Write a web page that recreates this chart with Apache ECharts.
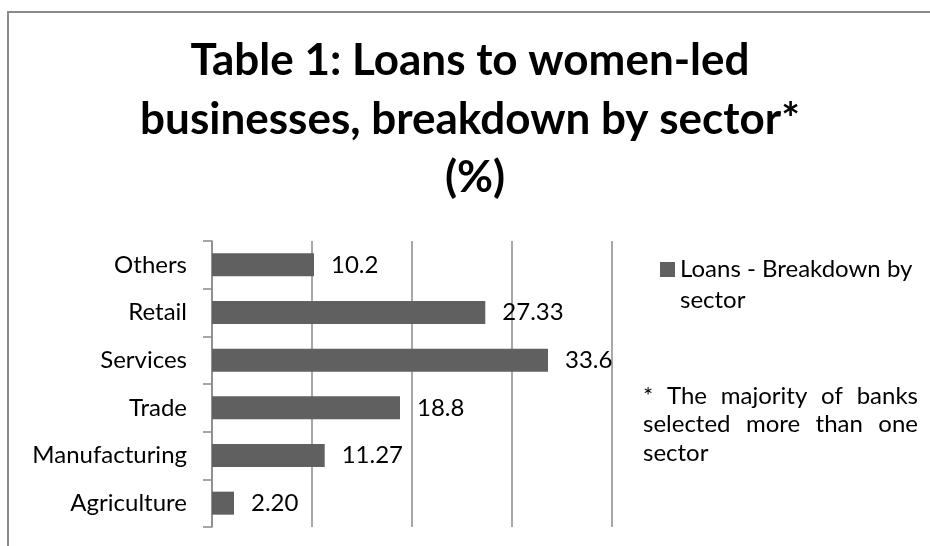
<!DOCTYPE html>
<html>
<head>
<meta charset="utf-8">
<script src="https://cdn.jsdelivr.net/npm/echarts@6/dist/echarts.min.js"></script>
<style>
  html, body { margin: 0; padding: 0; background: #fff; }
  #chart { width: 930px; height: 546px; }
</style>
</head>
<body>
<div id="chart"></div>
<script>
// Sectors listed top to bottom, with the share of loans (%) for each
const sectors = ['Others', 'Retail', 'Services', 'Trade', 'Manufacturing', 'Agriculture'];
const loanShares = [10.2, 27.33, 33.6, 18.8, 11.27, 2.20];
const shareDecimals = [1, 2, 1, 1, 2, 2];
const seriesName = 'Loans - Breakdown by sector';
const titleLines = ['Table 1: Loans to women-led', 'businesses, breakdown by sector*', '(%)'];
const noteLines = [
  ['*', 'The', 'majority', 'of', 'banks'],
  ['selected', 'more', 'than', 'one'],
  ['sector']
];

const FONT = 'Lato, "Open Sans", sans-serif';
const BODY = 24;
const BAR = '#606060';
const RULE = '#8a8a8a';

const chart = echarts.init(document.getElementById('chart'), null, { renderer: 'canvas' });

// Footnote: justified lines, words spread between the left and right edges
function noteElements() {
  const left = 643, right = 918, mid0 = 396, lh = 28.5;
  const ctx = document.createElement('canvas').getContext('2d');
  ctx.font = BODY + 'px ' + FONT;
  const els = [];
  noteLines.forEach((words, li) => {
    const y = mid0 + li * lh;
    const justify = li < noteLines.length - 1;
    const widths = words.map(w => ctx.measureText(w).width);
    const total = widths.reduce((a, b) => a + b, 0);
    const gap = justify && words.length > 1 ? (right - left - total) / (words.length - 1) : 6;
    let x = left;
    words.forEach((w, wi) => {
      els.push({
        type: 'text', silent: true,
        style: { text: w, x: x, y: y, align: 'left', verticalAlign: 'middle', font: BODY + 'px ' + FONT, fill: '#000' }
      });
      x += widths[wi] + gap;
    });
  });
  return els;
}

function titleText(text, x, y) {
  return {
    type: 'text', silent: true,
    style: { text: text, x: x, y: y, align: 'center', verticalAlign: 'middle', font: 'bold 44px ' + FONT, fill: '#000' }
  };
}

const option = {
  animation: false,
  backgroundColor: '#fff',
  textStyle: { fontFamily: FONT },
  grid: { left: 212, top: 241, width: 400, height: 286, containLabel: false },
  legend: {
    left: 660, top: 223, padding: 0,
    itemWidth: 15, itemHeight: 15, itemGap: 0,
    selectedMode: false,
    icon: 'rect',
    // blank first line keeps the icon level with the first line of text
    formatter: name => '\n' + name.replace(' sector', '\nsector'),
    textStyle: { fontSize: BODY, color: '#000', lineHeight: 31, fontFamily: FONT }
  },
  xAxis: {
    type: 'value', min: 0, max: 40, interval: 10,
    axisLine: { show: false }, axisTick: { show: false }, axisLabel: { show: false },
    splitLine: { show: true, lineStyle: { color: RULE, width: 1.5 } }
  },
  yAxis: {
    type: 'category', data: sectors, inverse: true,
    axisLine: { show: true, lineStyle: { color: RULE, width: 1.5 } },
    axisTick: { show: true, length: 9, lineStyle: { color: RULE, width: 1.5 } },
    axisLabel: { margin: 25, fontSize: BODY, color: '#000', fontFamily: FONT },
    splitLine: { show: false }
  },
  series: [{
    name: seriesName,
    type: 'bar',
    data: loanShares,
    barWidth: 23,
    itemStyle: { color: BAR },
    label: {
      show: true, position: 'right', distance: 17,
      fontSize: BODY, color: '#000', fontFamily: FONT,
      formatter: p => p.value.toFixed(shareDecimals[p.dataIndex])
    }
  }],
  graphic: [
    {
      type: 'rect', silent: true, z: -1,
      shape: { x: 8, y: 12, width: 1000, height: 600 },
      style: { fill: 'none', stroke: RULE, lineWidth: 2 }
    },
    titleText(titleLines[0], 470, 61),
    titleText(titleLines[1], 470, 120),
    titleText(titleLines[2], 475, 178)
  ].concat(noteElements())
};

chart.setOption(option);
</script>
</body>
</html>
